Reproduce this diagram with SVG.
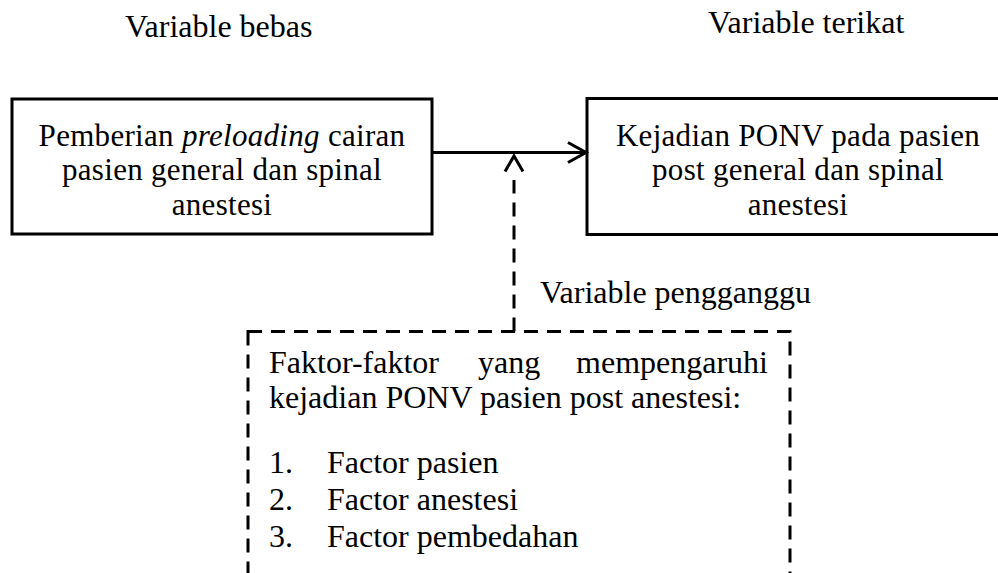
<svg xmlns="http://www.w3.org/2000/svg" width="998" height="573" viewBox="0 0 998 573">
  <style>
    text { font-family: "Liberation Serif", "Times New Roman", serif; font-size: 32px; fill: #000; }
    .mid { text-anchor: middle; font-size: 31px; letter-spacing: 0.3px; }
    .box { fill: #fff; stroke: #000; stroke-width: 3; }
    .dash { fill: none; stroke: #000; stroke-width: 3; stroke-dasharray: 14 9; }
    .solid { fill: none; stroke: #000; stroke-width: 3; }
    .head { fill: none; stroke: #000; stroke-width: 3; stroke-linejoin: miter; }
  </style>
  <rect width="998" height="573" fill="#fff"/>

  <!-- column headings -->
  <text x="125" y="37">Variable bebas</text>
  <text x="708" y="33">Variable terikat</text>

  <!-- independent variable -->
  <g id="node-preloading">
    <rect class="box" x="12" y="99" width="420" height="135"/>
    <text class="mid" x="222" y="145.5">Pemberian <tspan font-style="italic">preloading</tspan> cairan</text>
    <text class="mid" x="222" y="180">pasien general dan spinal</text>
    <text class="mid" x="222" y="214.5">anestesi</text>
  </g>

  <!-- dependent variable -->
  <g id="node-ponv">
    <rect class="box" x="587" y="98.5" width="430" height="136"/>
    <text class="mid" x="798" y="145.5">Kejadian PONV pada pasien</text>
    <text class="mid" x="798" y="180">post general dan spinal</text>
    <text class="mid" x="798" y="214.5">anestesi</text>
  </g>

  <!-- confounding factors -->
  <g id="node-pengganggu">
    <rect class="dash" x="248" y="331.5" width="542" height="270"/>
    <text x="269" y="373">Faktor-faktor</text>
    <text x="478" y="373">yang</text>
    <text x="768" y="373" text-anchor="end">mempengaruhi</text>
    <text x="269" y="408">kejadian PONV pasien post anestesi:</text>
    <text x="269" y="473">1.</text>
    <text x="327" y="473">Factor pasien</text>
    <text x="269" y="510">2.</text>
    <text x="327" y="510">Factor anestesi</text>
    <text x="269" y="547">3.</text>
    <text x="327" y="547">Factor pembedahan</text>
  </g>

  <!-- connectors -->
  <g id="connectors">
    <line class="solid" x1="432" y1="152.5" x2="586" y2="152.5"/>
    <path class="head" d="M568,142.5 L586,152.5 L568,162.5"/>
    <line class="dash" x1="514" y1="331.5" x2="514" y2="180"/>
    <path class="head" d="M505,171.5 L514,156 L523,171.5"/>
    <text x="540" y="303">Variable pengganggu</text>
  </g>
</svg>
